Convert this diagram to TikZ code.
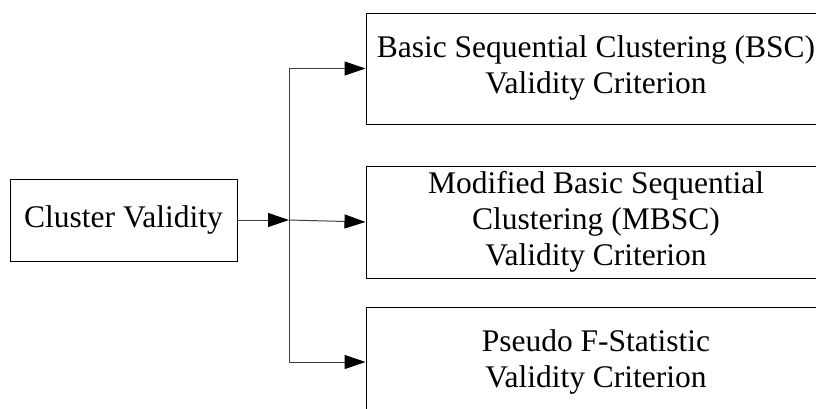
\documentclass[tikz,border=0pt]{standalone}
\usepackage{fontspec}
\setmainfont{Liberation Serif}
\usetikzlibrary{arrows.meta}
\tikzset{
  box/.style={draw=black, line width=1pt, align=center, inner sep=0pt,
    font=\fontsize{31.5}{36}\selectfont},
  wide/.style={box, minimum width=474pt},
  conn/.style={draw=black!75, line width=1pt},
  tip/.style={-{Triangle[length=21pt,width=14pt,fill=black,color=black]}}
}
\newcommand{\shiftedtext}[1]{\begin{tabular}{@{}c@{}}#1\end{tabular}\hspace*{14pt}}
\begin{document}
\begin{tikzpicture}[x=1pt,y=1pt]
\clip (0,0) rectangle (816,-408);
\fill[white] (0,0) rectangle (816,-408);
\node[box, minimum width=227pt, minimum height=82pt] (cv) at (123.5,-220) {Cluster Validity};
\node[wide, minimum height=111pt] (bsc) at (603,-68.5) {\shiftedtext{Basic Sequential Clustering (BSC)\\Validity Criterion}};
\node[wide, minimum height=112pt] (mbsc) at (603,-222) {\shiftedtext{Modified Basic Sequential\\Clustering (MBSC)\\Validity Criterion}};
\node[wide, minimum height=110pt] (psf) at (603,-362) {\shiftedtext{Pseudo F-Statistic\\Validity Criterion}};
\coordinate (br) at (289,-220);
\draw[conn, tip] (cv.east) -- (br);
\draw[conn, tip] (br) |- (bsc.west);
\draw[conn, tip] (br) -- (mbsc.west);
\draw[conn, tip] (br) |- (psf.west);
\end{tikzpicture}
\end{document}
